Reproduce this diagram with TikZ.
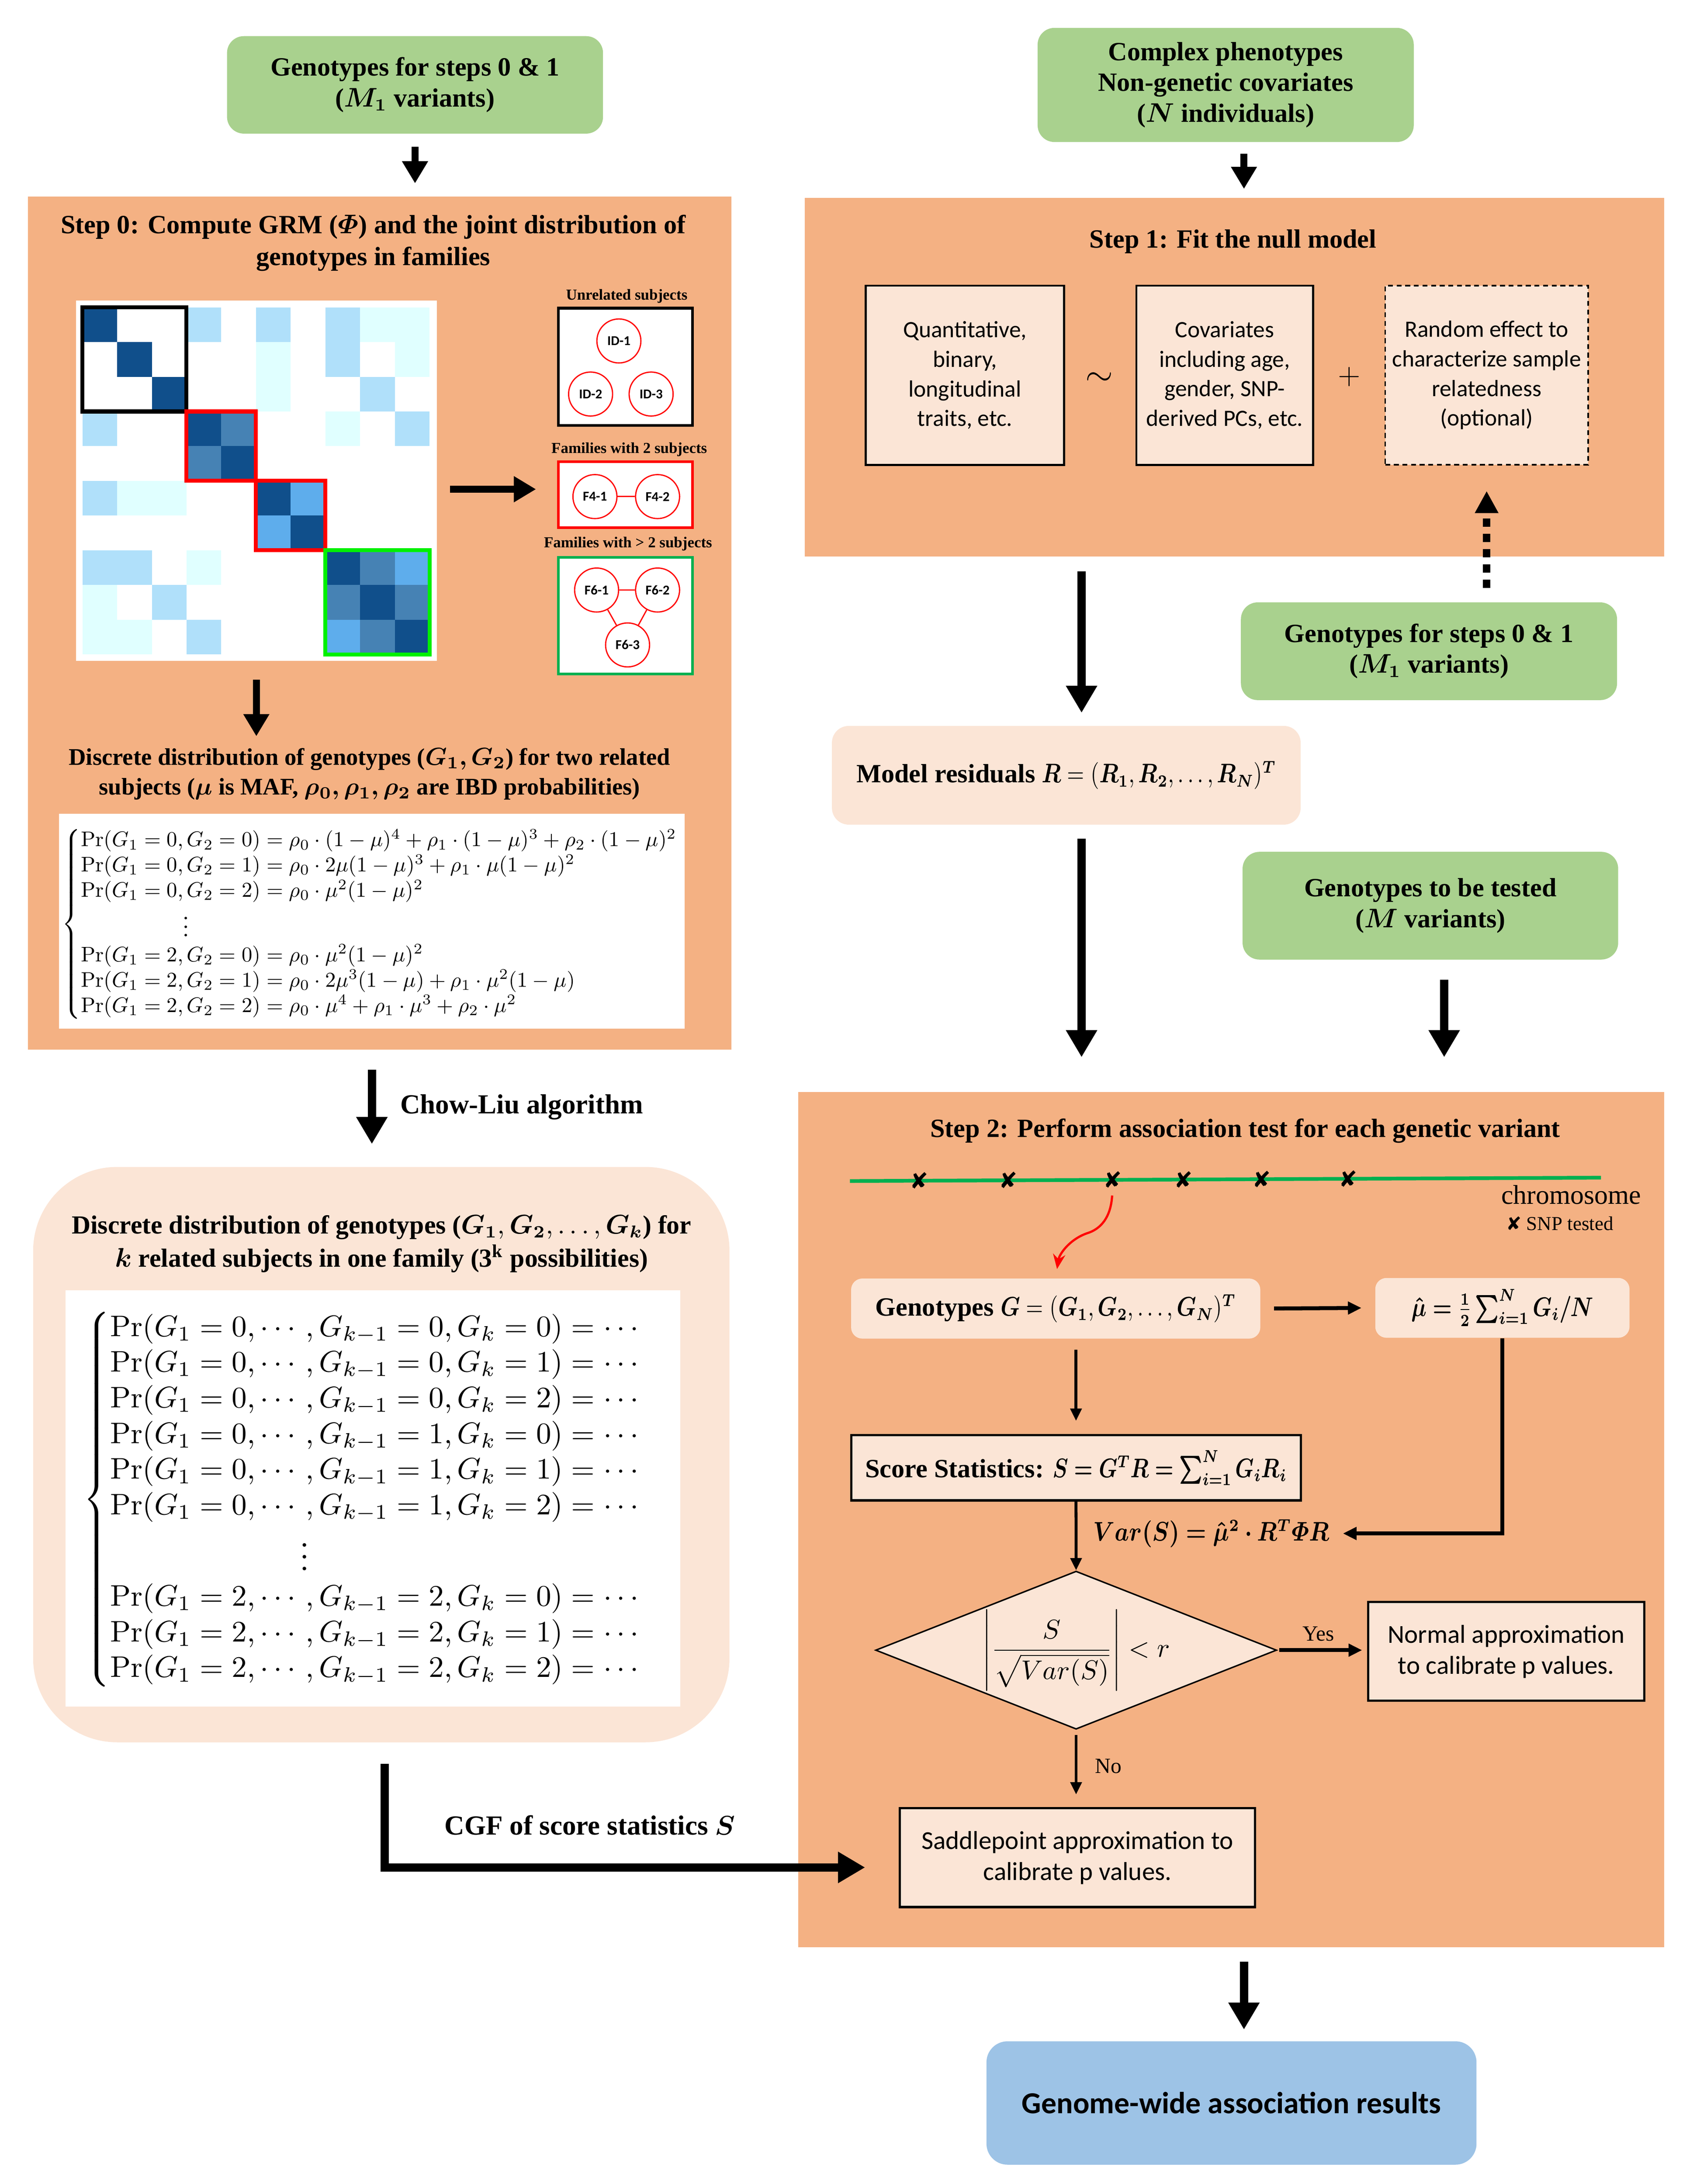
\documentclass[tikz,border=0pt]{standalone}
\usepackage[no-math]{fontspec}
\usepackage{amsmath,bm,graphicx}
\setmainfont{Liberation Serif}
\newfontfamily\calib{Carlito}
\newfontfamily\djv{DejaVu Sans}
\usetikzlibrary{arrows.meta,shapes.geometric,positioning}

\definecolor{steporange}{RGB}{244,177,131}
\definecolor{peach}{RGB}{251,229,214}
\definecolor{leaf}{RGB}{169,209,142}
\definecolor{sky}{RGB}{157,195,230}
\definecolor{cdark}{RGB}{16,79,139}
\definecolor{csteel}{RGB}{70,130,180}
\definecolor{cblue}{RGB}{94,173,236}
\definecolor{cpale}{RGB}{176,224,250}
\definecolor{cice}{RGB}{224,255,255}
\definecolor{famgreen}{RGB}{0,176,80}
\definecolor{lime}{RGB}{0,240,0}

% squeeze a formula sideways
\newcommand{\squeeze}[2]{\scalebox{#1}[1]{#2}}

\begin{document}
\begin{tikzpicture}[x=0.02cm,y=-0.02cm,
    ttl/.style={font=\fontsize{10.7}{13}\selectfont\bfseries,align=center,inner sep=0pt},
    leafbox/.style={fill=leaf,rounded corners=0.24cm,align=center,inner sep=0pt,font=\fontsize{10.7}{12.5}\selectfont\bfseries},
    stepbg/.style={fill=steporange,inner sep=0pt},
    modelbox/.style={draw,line width=0.8pt,fill=peach,align=center,inner sep=0pt,minimum height=2.56cm,font=\calib\fontsize{9.5}{12}\selectfont},
    calcbox/.style={draw,line width=0.9pt,fill=peach,align=center,inner sep=0pt,font=\calib\fontsize{10.5}{12.6}\selectfont},
    softbox/.style={fill=peach,rounded corners=0.16cm,align=center,inner sep=0pt,font=\fontsize{10.7}{13}\selectfont\bfseries},
    famlbl/.style={font=\fontsize{6.2}{7}\selectfont\bfseries,inner sep=0pt},
    fambox/.style={draw,fill=white,line width=1.1pt,minimum width=1.914cm,inner sep=0pt},
    subj/.style={circle,draw=red,line width=0.5pt,fill=white,minimum size=0.628cm,inner sep=0pt,font=\calib\fontsize{5.5}{6}\selectfont\bfseries},
    lbl/.style={font=\fontsize{8.8}{10}\selectfont,inner sep=0pt},
    fat/.style={line width=2.8pt,-{Triangle[length=9pt,width=10pt]}},
    fatter/.style={line width=3.4pt,-{Triangle[length=11pt,width=12pt]}},
    slim/.style={line width=1.2pt,-{Triangle[length=5pt,width=4.5pt]}},
    slimmer/.style={line width=1.6pt,-{Triangle[length=5.5pt,width=5pt]}},
    snp/.style={font=\djv\fontsize{9}{9}\selectfont,inner sep=0pt},
  ]
    \useasboundingbox (0,0) rectangle (1213,1559.1);

    % step 0
    \node[leafbox,minimum width=5.368cm,minimum height=1.392cm] (gtop) at (296.2,60.6) {Genotypes for steps 0 \& 1\\($\bm{M_1}$ variants)};
    \node[stepbg,minimum width=10.04cm,minimum height=12.186cm] (step0) at (270.9,444.85) {};
    \node[ttl] (t0) at (266.4,173.5) {Step 0: Compute GRM ($\bm{\varPhi}$) and the joint distribution of\\genotypes in families};
    \draw[fat,shorten <=0.18cm,shorten >=0.18cm] (gtop.south) -- (gtop.south |- step0.north);

    \node[fill=white,minimum width=5.154cm,minimum height=5.146cm,inner sep=0pt] (grm) at (182.95,343.25) {};
    \foreach \cx/\ry/\cc in {0/0/cdark,1/1/cdark,2/2/cdark,3/3/cdark,4/4/cdark,5/5/cdark,6/6/cdark,7/7/cdark,8/8/cdark,9/9/cdark,
        4/3/csteel,3/4/csteel,8/7/csteel,7/8/csteel,9/8/csteel,8/9/csteel,
        6/5/cblue,5/6/cblue,9/7/cblue,7/9/cblue,
        3/0/cpale,5/0/cpale,7/0/cpale,7/1/cpale,8/2/cpale,0/3/cpale,9/3/cpale,0/5/cpale,0/7/cpale,1/7/cpale,2/8/cpale,3/9/cpale,
        8/0/cice,9/0/cice,5/1/cice,9/1/cice,5/2/cice,7/3/cice,1/5/cice,2/5/cice,3/7/cice,0/8/cice,0/9/cice,1/9/cice}
        \fill[\cc] ({58.8+24.78*\cx},{219.4+24.78*\ry}) rectangle +(24.78,24.78);
    \draw[line width=1.6pt] (58.8,219.4) rectangle +(74.34,74.34);
    \draw[red,line width=1.6pt] (133.14,293.74) rectangle +(49.56,49.56);
    \draw[red,line width=1.6pt] (182.7,343.3) rectangle +(49.56,49.56);
    \draw[lime,line width=1.6pt] (232.26,392.86) rectangle +(74.34,74.34);

    \node[famlbl] (lblu) at (447.3,211.3) {Unrelated subjects};
    \node[fambox,minimum height=1.674cm] (famu) at (446.35,261.85) {};
    \node[subj] (id1) at (441.7,243.4) {ID-1};
    \node[subj] (id2) at (421.5,281.3) {ID-2};
    \node[subj] (id3) at (464.7,281.3) {ID-3};
    \node[famlbl] (lbl2) at (449.1,320.9) {Families with 2 subjects};
    \node[fambox,draw=red,minimum height=0.942cm] (fam2) at (446.35,353.15) {};
    \node[subj] (f41) at (424.6,354.5) {F4-1};
    \node[subj] (f42) at (469.3,354.5) {F4-2};
    \draw[red,line width=0.5pt] (f41) -- (f42);
    \node[famlbl] (lbl3) at (448.2,388.3) {Families with > 2 subjects};
    \node[fambox,draw=famgreen,minimum height=1.662cm] (fam3) at (446.35,439.55) {};
    \node[subj] (f61) at (425.8,421.2) {F6-1};
    \node[subj] (f62) at (469.3,421.2) {F6-2};
    \node[subj] (f63) at (447.9,460.4) {F6-3};
    \draw[red,line width=0.5pt] (f61) -- (f62) (f61) -- (f63) (f62) -- (f63);

    \coordinate (grmr) at ([yshift=-0.12cm]grm.east);
    \draw[fat,shorten <=0.18cm,shorten >=0.3cm] (grmr) -- (grmr -| fam2.west);

    \node[ttl,font=\fontsize{9.7}{12.2}\selectfont\bfseries] (d2) at (263.7,552.5) {Discrete distribution of genotypes ($\bm{G_1, G_2}$) for two related\\subjects ($\bm{\mu}$ is MAF, $\bm{\rho_0, \rho_1, \rho_2}$ are IBD probabilities)};
    \draw[fat,shorten <=0.26cm,shorten >=0.16cm] (grm.south) -- (grm.south |- d2.north);

    \node[fill=white,minimum width=8.932cm,minimum height=3.07cm,inner sep=0pt] (eqbox2) at (265.3,657.65) {};
    \node[inner sep=0pt] (eq2) at (264.4,659.8) {\resizebox*{8.808cm}{2.728cm}{$\left\{\begin{array}{@{}l@{}}
        \Pr(G_1=0,G_2=0)=\rho_0\cdot(1-\mu)^4+\rho_1\cdot(1-\mu)^3+\rho_2\cdot(1-\mu)^2\\
        \Pr(G_1=0,G_2=1)=\rho_0\cdot 2\mu(1-\mu)^3+\rho_1\cdot\mu(1-\mu)^2\\
        \Pr(G_1=0,G_2=2)=\rho_0\cdot\mu^2(1-\mu)^2\\
        \hphantom{\Pr(G_1=0,}\vdots\\
        \Pr(G_1=2,G_2=0)=\rho_0\cdot\mu^2(1-\mu)^2\\
        \Pr(G_1=2,G_2=1)=\rho_0\cdot 2\mu^3(1-\mu)+\rho_1\cdot\mu^2(1-\mu)\\
        \Pr(G_1=2,G_2=2)=\rho_0\cdot\mu^4+\rho_1\cdot\mu^3+\rho_2\cdot\mu^2
      \end{array}\right.$}};

    % family of k subjects
    \node[fill=peach,rounded corners=1.2cm,minimum width=9.942cm,minimum height=8.216cm,inner sep=0pt] (kfam) at (272.15,1038.4) {};
    \coordinate (cl) at ([xshift=-0.11cm]step0.south);
    \draw[fatter,shorten <=0.28cm,shorten >=0.32cm] (cl) -- (cl |- kfam.north);
    \node[ttl,font=\fontsize{11.2}{13}\selectfont\bfseries,anchor=west] (chowliu) at (285.3,790.2) {Chow-Liu algorithm};
    \node[ttl,font=\fontsize{10.6}{13.5}\selectfont\bfseries] (tk) at (272.3,888) {Discrete distribution of genotypes ($\bm{G_1}, \bm{G_2}, \ldots, \bm{G_k}$) for\\$\bm{k}$ related subjects in one family (3\textsuperscript{k} possibilities)};
    \node[fill=white,minimum width=8.778cm,minimum height=5.94cm,inner sep=0pt] (keqbox) at (266.05,1069.7) {};
    \node[inner sep=0pt] (keq) at (258.9,1070.5) {\resizebox*{7.98cm}{5.38cm}{$\left\{\begin{array}{@{}l@{}}
        \Pr(G_1=0,\cdots,G_{k-1}=0,G_k=0)=\cdots\\
        \Pr(G_1=0,\cdots,G_{k-1}=0,G_k=1)=\cdots\\
        \Pr(G_1=0,\cdots,G_{k-1}=0,G_k=2)=\cdots\\
        \Pr(G_1=0,\cdots,G_{k-1}=1,G_k=0)=\cdots\\
        \Pr(G_1=0,\cdots,G_{k-1}=1,G_k=1)=\cdots\\
        \Pr(G_1=0,\cdots,G_{k-1}=1,G_k=2)=\cdots\\
        \hphantom{\Pr(G_1=0,\cdots}\,\vdots\\
        \Pr(G_1=2,\cdots,G_{k-1}=2,G_k=0)=\cdots\\
        \Pr(G_1=2,\cdots,G_{k-1}=2,G_k=1)=\cdots\\
        \Pr(G_1=2,\cdots,G_{k-1}=2,G_k=2)=\cdots
      \end{array}\right.$}};

    % step 1
    \node[leafbox,minimum width=5.37cm,minimum height=1.63cm] (gph) at (874.75,60.65) {Complex phenotypes\\Non-genetic covariates\\($\bm{N}$ individuals)};
    \node[stepbg,minimum width=12.268cm,minimum height=5.124cm] (step1) at (881,269.3) {};
    \coordinate (colM) at (887.8,0);
    \coordinate (colR) at (771.9,0);
    \coordinate (colT) at (1030.7,0);
    \draw[fat,shorten <=0.16cm,shorten >=0.12cm] (colM |- gph.south) -- (colM |- step1.north);
    \node[ttl] (t1) at (880,172.3) {Step 1: Fit the null model};
    \node[modelbox,minimum width=2.832cm] (trait) at (688.7,267.9) {Quantitative,\\binary,\\longitudinal\\traits, etc.};
    \node[font=\fontsize{14}{14}\selectfont,inner sep=0pt] (tilde) at (784.4,270.6) {$\sim$};
    \node[modelbox,minimum width=2.522cm] (covar) at (874.05,267.9) {Covariates\\including age,\\gender, SNP-\\derived PCs, etc.};
    \node[font=\fontsize{13}{13}\selectfont,inner sep=0pt] (plus) at (962.9,268.9) {$+$};
    \node[modelbox,dash pattern=on 2pt off 1.5pt,line width=0.7pt,minimum width=2.896cm] (rand) at (1061,267.9) {Random effect to\\characterize sample\\relatedness\\(optional)};

    \node[leafbox,minimum width=5.37cm,minimum height=1.396cm] (g2) at (1019.85,464.9) {Genotypes for steps 0 \& 1\\($\bm{M_1}$ variants)};
    \draw[line width=3pt,dash pattern=on 3.4pt off 2.8pt,-{Triangle[length=9pt,width=9pt]},shorten <=0.2cm,shorten >=0.36cm] (rand.south |- g2.north) -- (rand.south);

    \node[softbox,rounded corners=0.24cm,minimum width=6.692cm,minimum height=1.41cm] (resid) at (761,553.45) {Model residuals \squeeze{0.82}{$\bm{R} = (\bm{R_1}, \bm{R_2}, \ldots, \bm{R_N})^{\bm{T}}$}};
    \draw[fatter,shorten <=0.2cm,shorten >=0.18cm] (colR |- step1.south) -- (colR |- resid.north);
    \node[leafbox,minimum width=5.362cm,minimum height=1.538cm] (g3) at (1020.85,646.55) {Genotypes to be tested\\($\bm{M}$ variants)};

    % step 2
    \node[stepbg,minimum width=12.362cm,minimum height=12.21cm] (step2) at (878.65,1084.75) {};
    \draw[fatter,shorten <=0.19cm,shorten >=0.49cm] (colR |- resid.south) -- (colR |- step2.north);
    \draw[fatter,shorten <=0.28cm,shorten >=0.49cm] (colT |- g3.south) -- (colT |- step2.north);
    \node[ttl] (t2) at (888.7,807.4) {Step 2: Perform association test for each genetic variant};

    \coordinate (chrl) at (606.6,843.1);
    \coordinate (chrr) at (1142.6,840.7);
    \draw[famgreen,line width=1.5pt] (chrl) -- (chrr);
    \foreach \sx [count=\i] in {656.1,719.5,794,844.7,900.3,962.1}
        \node[snp] (snp\i) at (\sx,{843.1-0.00448*(\sx-606.6)}) {✘};
    \node[font=\fontsize{11}{12}\selectfont,inner sep=0pt] (chrlbl) at (1121.4,852.8) {chromosome};
    \node[font=\fontsize{8}{9}\selectfont,inner sep=0pt] (snplbl) at (1113.2,873.4) {{\djv\fontsize{7.5}{7.5}\selectfont ✘}~SNP tested};

    \node[softbox,minimum width=5.842cm,minimum height=0.858cm] (geno) at (753.45,934.15) {Genotypes \squeeze{0.82}{$\bm{G} = (\bm{G_1}, \bm{G_2}, \ldots, \bm{G_N})^{\bm{T}}$}};
    \node[softbox,minimum width=3.63cm,minimum height=0.854cm] (muhat) at (1072.25,933.65) {\squeeze{0.8}{$\bm{\hat{\mu} = \tfrac{1}{2}\sum_{i=1}^{N} G_i/N}$}};
    \draw[red,line width=0.9pt,-{Stealth[length=6pt,width=5pt]},shorten <=0.1cm,shorten >=0.13cm] (snp3.south) .. controls (793,866) and (788,876) .. (777,880) .. controls (764,884) and (756,895) .. (geno.north);
    \draw[slimmer,shorten <=0.19cm,shorten >=0.19cm] (geno.east) -- (muhat.west);

    \node[draw,line width=0.9pt,fill=peach,minimum width=6.422cm,minimum height=0.93cm,inner sep=0pt,font=\fontsize{10.7}{13}\selectfont\bfseries] (score) at (767.95,1047.85) {Score Statistics: \squeeze{0.78}{$\bm{S = G^T R = \sum_{i=1}^{N} G_i R_i}$}};
    \draw[slim,shorten <=0.15cm,shorten >=0.19cm] (score.north |- geno.south) -- (score.north);
    \node[ttl] (vars) at (864.5,1094.7) {\squeeze{0.85}{$\bm{Var(S) = \hat{\mu}^2 \cdot R^T \varPhi R}$}};
    \draw[slimmer,shorten >=0.19cm] (muhat.south) |- (vars.east);

    \node[diamond,aspect=2.5,draw,line width=0.6pt,fill=peach,minimum width=5.726cm,minimum height=2.258cm,inner sep=0pt,font=\fontsize{11}{13}\selectfont] (dia) at (768,1178) {$\displaystyle\left|\frac{S}{\sqrt{Var(S)}}\right|<r$};
    \draw[slim] (score.south) -- (dia.north);
    \node[calcbox,minimum width=3.942cm,minimum height=1.408cm] (normal) at (1074.95,1178.9) {Normal approximation\\to calibrate p values.};
    \draw[slimmer,shorten <=0.03cm,shorten >=0.07cm] (dia.east) -- (dia.east -| normal.west);
    \node[lbl] (yes) at (940.9,1166.5) {Yes};
    \node[calcbox,minimum width=5.07cm,minimum height=1.412cm] (saddle) at (768.95,1326.1) {Saddlepoint approximation to\\calibrate p values.};
    \draw[slim,shorten <=0.07cm,shorten >=0.18cm] (dia.south) -- (dia.south |- saddle.north);
    \node[lbl] (no) at (791,1260.7) {No};

    % CGF into step 2
    \coordinate (cgfout) at ([xshift=0.05cm]kfam.south);
    \coordinate (cgfin) at ([yshift=-0.14cm]saddle.west);
    \draw[fatter,shorten <=0.3cm,shorten >=0.48cm] (cgfout) |- (cgfin);
    \node[ttl,font=\fontsize{11.2}{13}\selectfont\bfseries] (cgf) at (421,1303) {CGF of score statistics $\bm{S}$};

    % results
    \node[fill=sky,rounded corners=0.3cm,minimum width=6.996cm,minimum height=1.762cm,inner sep=0pt,font=\calib\fontsize{12.4}{14}\selectfont\bfseries] (result) at (878.9,1501.25) {Genome-wide association results};
    \draw[fatter,shorten <=0.2cm,shorten >=0.16cm] (colM |- step2.south) -- (colM |- result.north);
\end{tikzpicture}
\end{document}
